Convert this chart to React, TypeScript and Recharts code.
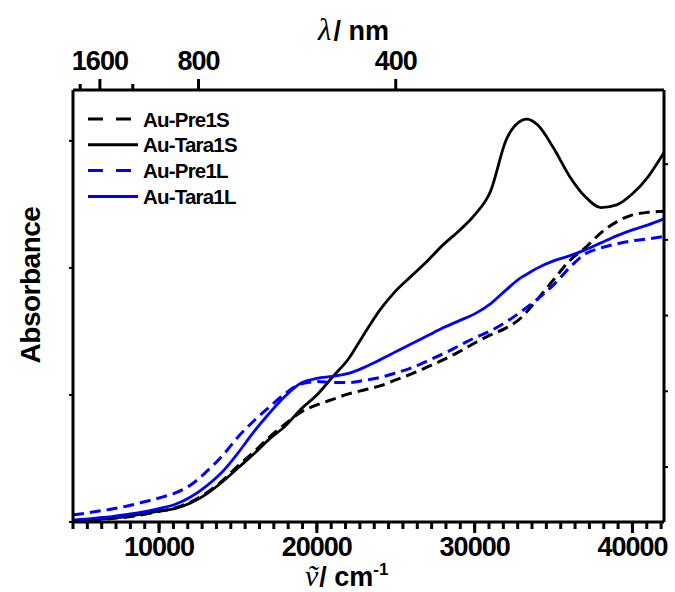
import React from 'react';
import { LineChart, Line, XAxis, YAxis, Legend, Label } from 'recharts';

// wavenumber (cm^-1)
const wavenumbers = [
  4546, 5000, 6000, 7000, 8000, 9000, 10000, 11000, 12000, 13000, 14000, 15000, 16000,
  17000, 18000, 19000, 20000, 21000, 22000, 23000, 24000, 25000, 26000, 27000, 28000,
  29000, 30000, 31000, 32000, 33000, 33300, 34000, 35000, 36000, 37000, 38000, 39000, 40000,
  41000, 42000,
];

const auPre1S = [
  0.004, 0.008, 0.016, 0.028, 0.039, 0.059, 0.083, 0.110, 0.157, 0.228, 0.323, 0.441, 0.551,
  0.669, 0.772, 0.866, 0.921, 0.965, 1.008, 1.039, 1.071, 1.118, 1.165, 1.220, 1.276,
  1.339, 1.409, 1.472, 1.528, 1.614, 1.654, 1.756, 1.906, 2.055, 2.157, 2.276, 2.362, 2.417,
  2.437, 2.445,
];

const auTara1S = [
  0.008, 0.012, 0.020, 0.031, 0.043, 0.063, 0.087, 0.106, 0.150, 0.220, 0.315, 0.425, 0.535,
  0.654, 0.756, 0.890, 1.000, 1.142, 1.283, 1.480, 1.669, 1.819, 1.937, 2.055, 2.181,
  2.291, 2.417, 2.601, 3.008, 3.161, 3.171, 3.124, 2.943, 2.724, 2.561, 2.475, 2.496, 2.583,
  2.719, 2.908,
];

const auPre1L = [
  0.055, 0.063, 0.083, 0.102, 0.126, 0.157, 0.189, 0.228, 0.291, 0.396, 0.520, 0.669, 0.795,
  0.906, 1.012, 1.087, 1.105, 1.098, 1.098, 1.114, 1.138, 1.173, 1.213, 1.268, 1.323,
  1.386, 1.449, 1.504, 1.575, 1.661, 1.689, 1.756, 1.866, 2.000, 2.110, 2.157, 2.189, 2.213,
  2.228, 2.248,
];

const auTara1L = [
  0.016, 0.020, 0.031, 0.043, 0.059, 0.079, 0.106, 0.138, 0.197, 0.283, 0.394, 0.543, 0.709,
  0.858, 0.992, 1.094, 1.130, 1.146, 1.169, 1.217, 1.276, 1.339, 1.402, 1.465, 1.528,
  1.583, 1.638, 1.717, 1.827, 1.929, 1.950, 2.000, 2.055, 2.094, 2.142, 2.197, 2.252, 2.299,
  2.339, 2.386,
];

const seriesNames = ['Au-Pre1S', 'Au-Tara1S', 'Au-Pre1L', 'Au-Tara1L'];

// bottom axis ticks
const bottomMajorTicks = [10000, 20000, 30000, 40000];
const bottomMinorPerMajor = 10;
const xDomain = [4545.45, 42000];

// top axis (wavelength, nm)
const topMinorWavelengths = [2000, 1200];
const topMajorWavelengths = [1600, 800, 400];

// y axes (no labels)
const leftTicks = [0, 1, 2, 3];
const leftDomain = [0, 3.4];
const rightTicks = [0, 1, 2, 3, 4];
const rightDomain = [-0.727, 4.98];

const data = wavenumbers.map((w, i) => ({
  w,
  preS: auPre1S[i],
  taraS: auTara1S[i],
  preL: auPre1L[i],
  taraL: auTara1L[i],
}));

const step = 10000 / (bottomMinorPerMajor + 1);
const bottomMinorTicks: number[] = [];
for (let n = Math.ceil(xDomain[0] / step - 1e-6); n * step <= xDomain[1] + 1e-6; n++) {
  bottomMinorTicks.push(n * step);
}
const topMinorTicks = topMinorWavelengths.map((l) => 1e7 / l);
const topMajorTicks = topMajorWavelengths.map((l) => 1e7 / l);

const SANS = '"Liberation Sans", Arial, sans-serif';
const SERIF = '"Liberation Serif", "DejaVu Serif", serif';

const EmptyTick = () => <g />;

const BottomLabelTick = (props: any) => {
  const { x, y, payload } = props;
  return (
    <text x={x} y={y + 32} textAnchor="middle" fontFamily={SANS} fontWeight="bold" fontSize={27} letterSpacing={-1} fill="#000">
      {Math.round(payload.value)}
    </text>
  );
};

const TopLabelTick = (props: any) => {
  const { x, y, payload } = props;
  return (
    <text x={x} y={y - 18} textAnchor="middle" fontFamily={SANS} fontWeight="bold" fontSize={27} letterSpacing={-1} fill="#000">
      {Math.round(1e7 / payload.value)}
    </text>
  );
};

const renderLegend = (props: any) => {
  const payload = [...(props.payload || [])].sort(
    (a: any, b: any) => seriesNames.indexOf(a.value) - seriesNames.indexOf(b.value)
  );
  return (
    <svg width={200} height={110} style={{ display: 'block' }}>
      {payload.map((entry: any, i: number) => {
        const cy = 14 + i * 25.8;
        const dash = entry.payload && entry.payload.strokeDasharray ? '15 13' : undefined;
        return (
          <g key={i}>
            <line x1={8} x2={58} y1={cy} y2={cy} stroke={entry.color} strokeWidth={3} strokeDasharray={dash} />
            <text x={63} y={cy + 7.5} fontFamily={SANS} fontWeight="bold" fontSize={20.5} letterSpacing={-0.8} fill="#000">
              {entry.value}
            </text>
          </g>
        );
      })}
    </svg>
  );
};

const axisLineStyle = { stroke: '#000', strokeWidth: 3 };
const tickLineStyle = { stroke: '#000', strokeWidth: 3 };

export default function App() {
  return (
    <div style={{ position: 'absolute', left: 0, top: 0, width: 675, height: 592, background: '#fff' }}>
      <LineChart width={675} height={592} data={data} margin={{ top: 50, right: 1, bottom: 30, left: 63 }}>
        {/* bottom: labels (outermost) */}
        <XAxis
          xAxisId="b3"
          dataKey="w"
          type="number"
          domain={xDomain}
          ticks={bottomMajorTicks}
          height={38}
          tickSize={0}
          tickMargin={0}
          tickLine={false}
          axisLine={false}
          tick={<BottomLabelTick />}
          interval={0}
        >
          <Label
            content={() => (
              <text x={305} y={586} fill="#000">
                <tspan fontFamily={SERIF} fontStyle="italic" fontSize={30}>ṽ</tspan>
                <tspan fontFamily={SANS} fontWeight="bold" fontSize={27} dx={1}>/ cm</tspan>
                <tspan fontFamily={SANS} fontWeight="bold" fontSize={17} dy={-11}>-1</tspan>
              </text>
            )}
          />
        </XAxis>
        {/* bottom: major ticks */}
        <XAxis
          xAxisId="b2"
          dataKey="w"
          type="number"
          domain={xDomain}
          ticks={bottomMajorTicks}
          height={1}
          tickSize={10}
          tickMargin={0}
          tickLine={tickLineStyle}
          axisLine={false}
          tick={<EmptyTick />}
          interval={0}
        />
        {/* bottom: minor ticks + axis line (closest to plot) */}
        <XAxis
          xAxisId="b1"
          dataKey="w"
          type="number"
          domain={xDomain}
          ticks={bottomMinorTicks}
          height={1}
          tickSize={7}
          tickMargin={0}
          tickLine={tickLineStyle}
          axisLine={axisLineStyle}
          tick={<EmptyTick />}
          interval={0}
        />
        {/* top: labels (outermost) */}
        <XAxis
          xAxisId="t3"
          orientation="top"
          dataKey="w"
          type="number"
          domain={xDomain}
          ticks={topMajorTicks}
          height={38}
          tickSize={0}
          tickMargin={0}
          tickLine={false}
          axisLine={false}
          tick={<TopLabelTick />}
          interval={0}
        >
          <Label
            content={() => (
              <text x={318} y={40} fill="#000">
                <tspan fontFamily={SERIF} fontStyle="italic" fontSize={31}>λ</tspan>
                <tspan fontFamily={SANS} fontWeight="bold" fontSize={27} dx={2}>/ nm</tspan>
              </text>
            )}
          />
        </XAxis>
        {/* top: major ticks */}
        <XAxis
          xAxisId="t2"
          orientation="top"
          dataKey="w"
          type="number"
          domain={xDomain}
          ticks={topMajorTicks}
          height={1}
          tickSize={10}
          tickMargin={0}
          tickLine={tickLineStyle}
          axisLine={false}
          tick={<EmptyTick />}
          interval={0}
        />
        {/* top: minor ticks + axis line */}
        <XAxis
          xAxisId="t1"
          orientation="top"
          dataKey="w"
          type="number"
          domain={xDomain}
          ticks={topMinorTicks}
          height={1}
          tickSize={6}
          tickMargin={0}
          tickLine={tickLineStyle}
          axisLine={axisLineStyle}
          tick={<EmptyTick />}
          interval={0}
        />
        <YAxis
          yAxisId="left"
          type="number"
          domain={leftDomain}
          ticks={leftTicks}
          width={10}
          tickSize={4}
          tickMargin={0}
          tickLine={{ stroke: '#000', strokeWidth: 2 }}
          axisLine={axisLineStyle}
          tick={<EmptyTick />}
          interval={0}
        >
          <Label
            content={() => (
              <text
                x={40}
                y={285}
                transform="rotate(-90, 40, 285)"
                textAnchor="middle"
                fontFamily={SANS}
                fontWeight="bold"
                fontSize={28}
                letterSpacing={-0.5}
                fill="#000"
              >
                Absorbance
              </text>
            )}
          />
        </YAxis>
        <YAxis
          yAxisId="right"
          orientation="right"
          type="number"
          domain={rightDomain}
          ticks={rightTicks}
          allowDataOverflow
          width={10}
          tickSize={4}
          tickMargin={0}
          tickLine={{ stroke: '#000', strokeWidth: 2 }}
          axisLine={axisLineStyle}
          tick={<EmptyTick />}
          interval={0}
        />
        <Legend
          layout="horizontal"
          verticalAlign="middle"
          align="center"
          content={renderLegend}
          wrapperStyle={{ position: 'absolute', left: 80, top: 105, width: 200, height: 110 }}
        />
        <Line
          xAxisId="b1"
          yAxisId="left"
          dataKey="preS"
          name={seriesNames[0]}
          type="monotone"
          stroke="#000"
          strokeWidth={3}
          strokeDasharray="11 6"
          dot={false}
          isAnimationActive={false}
        />
        <Line
          xAxisId="b1"
          yAxisId="left"
          dataKey="taraS"
          name={seriesNames[1]}
          type="monotone"
          stroke="#000"
          strokeWidth={2.8}
          dot={false}
          isAnimationActive={false}
        />
        <Line
          xAxisId="b1"
          yAxisId="left"
          dataKey="preL"
          name={seriesNames[2]}
          type="monotone"
          stroke="#0000ff"
          strokeWidth={3}
          strokeDasharray="11 6"
          dot={false}
          isAnimationActive={false}
        />
        <Line
          xAxisId="b1"
          yAxisId="left"
          dataKey="taraL"
          name={seriesNames[3]}
          type="monotone"
          stroke="#0000ff"
          strokeWidth={2.8}
          dot={false}
          isAnimationActive={false}
        />
      </LineChart>
    </div>
  );
}
